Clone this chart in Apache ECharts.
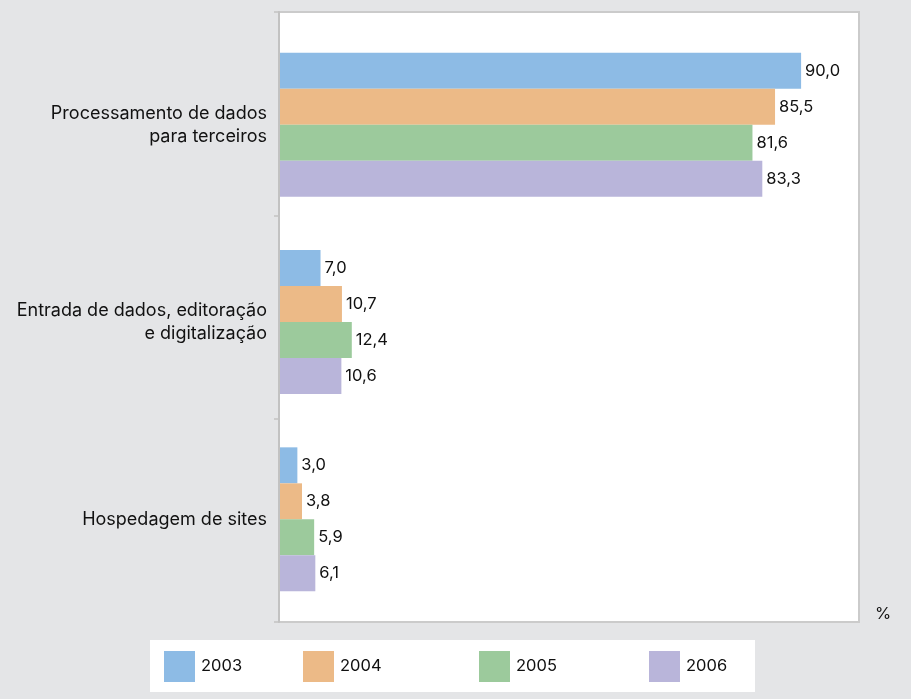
<!DOCTYPE html>
<html><head><meta charset="utf-8">
<script src="https://cdn.jsdelivr.net/npm/echarts@6/dist/echarts.min.js"></script>
<style>html,body{margin:0;padding:0;background:#e4e5e7;}#c{width:911px;height:699px;}</style>
</head><body><div id="c"></div>
<script>
const categories = ["Processamento de dados\npara terceiros", "Entrada de dados, editoração\ne digitalização", "Hospedagem de sites"];
const years = ["2003", "2004", "2005", "2006"];
const v2003 = [90.0, 7.0, 3.0];
const v2004 = [85.5, 10.7, 3.8];
const v2005 = [81.6, 12.4, 5.9];
const v2006 = [83.3, 10.6, 6.1];
const colors = ["#8dbbe5", "#ecba87", "#9cca9c", "#b9b5da"];
const seriesValues = [v2003, v2004, v2005, v2006];
const legendLefts = [164, 303, 479, 649];
const fontFam = "Inter, 'Liberation Sans', sans-serif";

const chart = echarts.init(document.getElementById('c'));
chart.setOption({
  backgroundColor: '#e4e5e7',
  animation: false,
  textStyle: {fontFamily: fontFam},
  graphic: [
    {type: 'rect', z: -10, shape: {x: 150, y: 640, width: 605, height: 52}, style: {fill: '#ffffff', stroke: null}},
    {type: 'text', left: 875, top: 606, style: {text: '%', fontSize: 16.5, fill: '#111111', fontFamily: fontFam}}
  ],
  grid: [
    {left: 280, right: 52, top: 26, bottom: 81, containLabel: false},
    {left: 279, right: 52, top: 12, bottom: 77, containLabel: false, show: true,
     backgroundColor: '#ffffff', borderColor: '#cbcbcb', borderWidth: 2, z: -1}
  ],
  xAxis: [
    {type: 'value', gridIndex: 0, min: 0, max: 100, show: false},
    {type: 'value', gridIndex: 1, min: 0, max: 100, show: false}
  ],
  yAxis: [
    {
      type: 'category', gridIndex: 0, data: categories, inverse: true,
      axisLine: {show: false},
      axisTick: {show: false},
      axisLabel: {margin: 13, fontSize: 18, color: '#111111', lineHeight: 23, align: 'right'}
    },
    {
      type: 'category', gridIndex: 1, data: categories, inverse: true,
      axisLine: {show: true, lineStyle: {color: '#c2c2c2', width: 2}},
      axisTick: {show: true, length: 5, lineStyle: {color: '#c2c2c2', width: 1.5}},
      axisLabel: {show: false}
    }
  ],
  legend: years.map((y, i) => ({
    data: [y], left: legendLefts[i], top: 651, itemWidth: 31, itemHeight: 31, itemGap: 6,
    icon: 'rect', textStyle: {fontSize: 16.5, color: '#111111', padding: [0, 0, 0, 1]}, padding: 0
  })),
  series: years.map((y, i) => ({
    name: y, type: 'bar', data: seriesValues[i], barWidth: 36, barGap: '0%',
    xAxisIndex: 0, yAxisIndex: 0,
    itemStyle: {color: colors[i]},
    label: {show: true, position: 'right', distance: 4, fontSize: 16.5, color: '#111111',
      formatter: p => p.value.toFixed(1).replace('.', ',')}
  }))
});
</script></body></html>
